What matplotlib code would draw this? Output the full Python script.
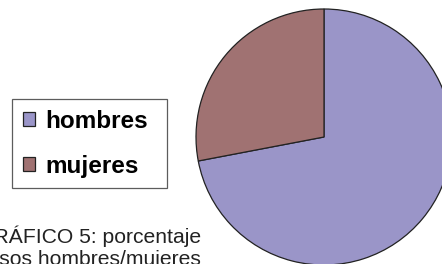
import matplotlib
matplotlib.use('Agg')
import matplotlib.pyplot as plt

# Data
labels = ['hombres', 'mujeres']
shares = [72, 28]
colors = ['#9a95c8', '#a07272']
caption = 'GRÁFICO 5: porcentaje\ncasos hombres/mujeres'

plt.rcParams['font.family'] = ['Liberation Sans', 'DejaVu Sans']

W, H = 442, 264
fig = plt.figure(figsize=(W / 100, H / 100), dpi=100)

# pie axes: centre (324, 137) px from top, radius 128 px
cx, cy, r = 324, 137, 128
ax = fig.add_axes([(cx - r) / W, (H - cy - r) / H, 2 * r / W, 2 * r / H])
wedges, _ = ax.pie(shares, colors=colors, startangle=90, counterclock=False,
                   radius=1, wedgeprops=dict(edgecolor='#222222', linewidth=0.9))
ax.set_xlim(-1, 1)
ax.set_ylim(-1, 1)
ax.set_aspect('equal')
ax.axis('off')

# legend box spans x 12..167 px
leg = fig.legend(wedges, labels, loc='upper left', mode='expand',
                 bbox_to_anchor=(12 / W, (H - 99) / H, 155 / W, 0),
                 borderaxespad=0,
                 prop=dict(size=17.5, weight='bold'),
                 handlelength=0.5, handleheight=0.5, handletextpad=0.42,
                 borderpad=0.44, labelspacing=0.9, fancybox=False)
leg.get_frame().set_edgecolor('#333333')
leg.get_frame().set_linewidth(0.9)

# caption, starts left of the figure and runs off the bottom edge
fig.text(-23 / W, (H - 265) / H, caption, fontsize=15.2, va='baseline',
         ha='left', color='#222222', linespacing=1.2)

fig.savefig('out.png', dpi=100)
